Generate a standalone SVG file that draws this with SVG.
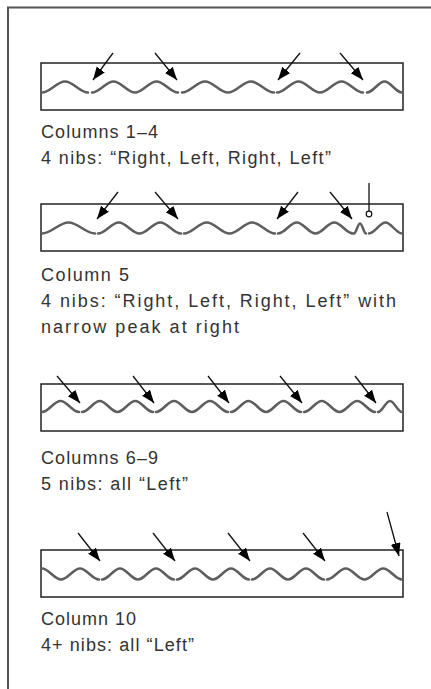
<svg xmlns="http://www.w3.org/2000/svg" width="431" height="689" viewBox="0 0 431 689">
<style>
.frame{fill:none;stroke:#555;stroke-width:2}
.strip{fill:#fff;stroke:#222;stroke-width:1.5}
.wave{fill:none;stroke:#5e5e5e;stroke-width:2.5;stroke-linecap:round}
.lbl{font-family:"Liberation Sans",Arial,sans-serif;font-size:18px;fill:#333}
.arr{fill:none;stroke:#111;stroke-width:1.3;marker-end:url(#ah)}
.pin{fill:none;stroke:#111;stroke-width:1.3}
.pinhead{fill:#fff;stroke:#111;stroke-width:1.2}
</style>
<defs>
<marker id="ah" markerUnits="userSpaceOnUse" markerWidth="14" markerHeight="12" refX="13" refY="5" orient="auto">
<path d="M0,0 L13,5 L0,10 z" fill="#000"/>
</marker>
</defs>
<rect width="431" height="689" fill="#fff"/>
<path class="frame" d="M8,689 V7.5 H431"/>

<g id="panel-1">
<rect class="strip" x="41" y="63" width="362" height="47"/>
<path class="wave" d="M42,92.5 c8.3,0 14.7,-11 23,-11 s14.7,11 23,11"/>
<path class="wave" d="M92,92.5 c7.7,0 13.8,-11 21.5,-11 s13.8,11 21.5,11 s13.8,-11 21.5,-11 s13.8,11 21.5,11"/>
<path class="wave" d="M182,92.5 c8.3,0 14.7,-11 23,-11 s14.7,11 23,11 s14.7,-11 23,-11 s14.7,11 23,11"/>
<path class="wave" d="M277,92.5 c7.7,0 13.8,-11 21.5,-11 s13.8,11 21.5,11 s13.8,-11 21.5,-11 s13.8,11 21.5,11"/>
<path class="wave" d="M367,92.5 c6.3,0 11.2,-11 17.5,-11 s11.2,11 17.5,11"/>
<text class="lbl" x="41" y="138" textLength="117">Columns 1–4</text>
<text class="lbl" x="41" y="164" textLength="290">4 nibs: “Right, Left, Right, Left”</text>
</g>

<g id="panel-2">
<rect class="strip" x="41" y="204" width="362" height="47"/>
<path class="wave" d="M42,233.5 c9.5,0 17,-11 26.5,-11 s17,11 26.5,11"/>
<path class="wave" d="M98,233.5 c7.5,0 13.3,-11 20.75,-11 s13.3,11 20.75,11 s13.3,-11 20.75,-11 s13.3,11 20.75,11"/>
<path class="wave" d="M184,233.5 c8.2,0 14.6,-11 22.75,-11 s14.6,11 22.75,11 s14.6,-11 22.75,-11 s14.6,11 22.75,11"/>
<path class="wave" d="M278,233.5 c6.75,0 12,-11 18.75,-11 s12,11 18.75,11 s12,-11 18.75,-11 s12,11 18.75,11"/>
<path class="wave" d="M354,233.5 c2.2,0 3.8,-10 6,-10 s3.8,10 6,10"/>
<path class="wave" d="M369,233.5 c6,0 10.6,-11 16.5,-11 s10.6,11 16.5,11"/>
<text class="lbl" x="41" y="281" textLength="88">Column 5</text>
<text class="lbl" x="41" y="307" textLength="355">4 nibs: “Right, Left, Right, Left” with</text>
<text class="lbl" x="41" y="333" textLength="198">narrow peak at right</text>
</g>

<g id="panel-3">
<rect class="strip" x="41" y="384" width="362" height="47"/>
<path class="wave" d="M42,412 c6.7,0 11.8,-11 18.5,-11 s11.8,11 18.5,11"/>
<path class="wave" d="M82,412 c6.4,0 11.4,-11 17.75,-11 s11.4,11 17.75,11 s11.4,-11 17.75,-11 s11.4,11 17.75,11"/>
<path class="wave" d="M156,412 c6.5,0 11.5,-11 18,-11 s11.5,11 18,11 s11.5,-11 18,-11 s11.5,11 18,11"/>
<path class="wave" d="M231,412 c6.3,0 11.2,-11 17.5,-11 s11.2,11 17.5,11 s11.2,-11 17.5,-11 s11.2,11 17.5,11"/>
<path class="wave" d="M304,412 c6.4,0 11.4,-11 17.75,-11 s11.4,11 17.75,11 s11.4,-11 17.75,-11 s11.4,11 17.75,11"/>
<path class="wave" d="M378,412 c4.3,0 7.7,-11 12,-11 s7.7,11 12,11"/>
<text class="lbl" x="41" y="464" textLength="117">Columns 6–9</text>
<text class="lbl" x="41" y="490" textLength="147">5 nibs: all “Left”</text>
</g>

<g id="panel-4">
<rect class="strip" x="41" y="550" width="362" height="47"/>
<path class="wave" d="M42,568.5 c6.8,0 12.2,11 19,11 s12.2,-11 19,-11 s12.2,11 19,11"/>
<path class="wave" d="M102,579.5 c6.5,0 11.5,-11 18,-11 s11.5,11 18,11 s11.5,-11 18,-11 s11.5,11 18,11"/>
<path class="wave" d="M177,579.5 c6.5,0 11.5,-11 18,-11 s11.5,11 18,11 s11.5,-11 18,-11 s11.5,11 18,11"/>
<path class="wave" d="M252,579.5 c6.5,0 11.5,-11 18,-11 s11.5,11 18,11 s11.5,-11 18,-11 s11.5,11 18,11"/>
<path class="wave" d="M327,579.5 c6.75,0 12,-11 18.75,-11 s12,11 18.75,11 s12,-11 18.75,-11 s12,11 18.75,11"/>
<text class="lbl" x="41" y="625" textLength="95">Column 10</text>
<text class="lbl" x="41" y="651" textLength="153">4+ nibs: all “Left”</text>
</g>

<g id="connectors">
<line class="arr" x1="113" y1="53" x2="93" y2="80"/>
<line class="arr" x1="155" y1="53" x2="177" y2="80"/>
<line class="arr" x1="300" y1="53" x2="278" y2="80"/>
<line class="arr" x1="340" y1="53" x2="363" y2="80"/>

<line class="arr" x1="118" y1="192" x2="97" y2="219"/>
<line class="arr" x1="155" y1="192" x2="178" y2="219"/>
<line class="arr" x1="298" y1="192" x2="277" y2="219"/>
<line class="arr" x1="330" y1="192" x2="352" y2="219"/>
<line class="pin" x1="369" y1="183" x2="369" y2="211"/>
<circle class="pinhead" cx="369" cy="214" r="2.8"/>

<line class="arr" x1="57" y1="376" x2="80" y2="403"/>
<line class="arr" x1="133" y1="376" x2="154" y2="403"/>
<line class="arr" x1="208" y1="376" x2="229" y2="403"/>
<line class="arr" x1="280" y1="376" x2="302" y2="403"/>
<line class="arr" x1="355" y1="376" x2="376" y2="403"/>

<line class="arr" x1="78" y1="533" x2="100" y2="561"/>
<line class="arr" x1="153" y1="533" x2="175" y2="561"/>
<line class="arr" x1="228" y1="533" x2="250" y2="561"/>
<line class="arr" x1="303" y1="533" x2="325" y2="561"/>
<line class="arr" x1="387" y1="512" x2="399" y2="556"/>
</g>
</svg>
